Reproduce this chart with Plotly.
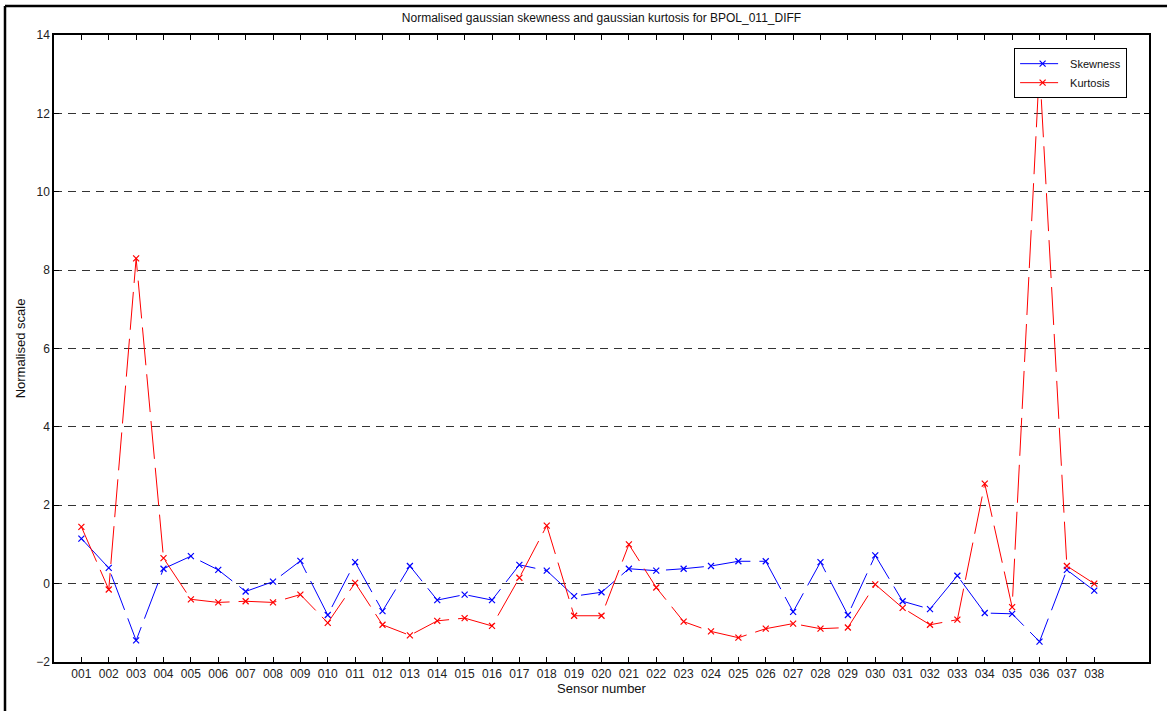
import plotly.graph_objects as go

# Sensor identifiers
sensors = list(range(1, 39))
sensor_labels = [f"{s:03d}" for s in sensors]

# Normalised gaussian skewness per sensor
skewness = [1.15, 0.40, -1.45, 0.38, 0.70, 0.35, -0.20, 0.05, 0.58, -0.80,
            0.55, -0.70, 0.45, -0.42, -0.28, -0.42, 0.48, 0.33, -0.32, -0.22,
            0.38, 0.33, 0.38, 0.45, 0.57, 0.57, -0.72, 0.55, -0.80, 0.72,
            -0.45, -0.65, 0.20, -0.75, -0.77, -1.48, 0.35, -0.18]

# Normalised gaussian kurtosis per sensor
kurtosis = [1.45, -0.15, 8.30, 0.65, -0.40, -0.48, -0.45, -0.48, -0.28, -1.00,
            0.02, -1.05, -1.32, -0.95, -0.88, -1.08, 0.15, 1.48, -0.82, -0.82,
            1.00, -0.10, -0.97, -1.22, -1.38, -1.15, -1.02, -1.15, -1.12, -0.02,
            -0.62, -1.05, -0.92, 2.55, -0.60, 13.20, 0.45, 0.00]

y_ticks = list(range(-2, 15, 2))

FONT = "Liberation Sans, Arial, sans-serif"
line_dash = "38px,9px"

fig = go.Figure()
fig.add_trace(go.Scatter(
    x=sensors, y=skewness, name="Skewness", mode="lines+markers",
    line=dict(color="#0000ff", width=1, dash=line_dash),
    marker=dict(symbol="x-thin-open", size=6, line=dict(color="#0000ff", width=1.2)),
))
fig.add_trace(go.Scatter(
    x=sensors, y=kurtosis, name="Kurtosis", mode="lines+markers",
    line=dict(color="#ff0000", width=1, dash=line_dash),
    marker=dict(symbol="x-thin-open", size=6, line=dict(color="#ff0000", width=1.2)),
))

axis_common = dict(
    showline=True, linecolor="black", linewidth=1.5, mirror="ticks",
    ticks="inside", ticklen=5, tickcolor="black", tickwidth=1,
    zeroline=False,
    tickfont=dict(family=FONT, size=12, color="#222"),
)

fig.update_layout(
    width=1167, height=711,
    paper_bgcolor="white", plot_bgcolor="white",
    margin=dict(l=54, r=18, t=35, b=49),
    font=dict(family=FONT, color="#111"),
    title=dict(text="Normalised gaussian skewness and gaussian kurtosis for BPOL_011_DIFF",
               x=(54 + 1149) / 2 / 1167, xanchor="center", y=1 - 18 / 711, yanchor="middle",
               font=dict(family=FONT, size=12, color="#111")),
    xaxis=dict(range=[0, 40], tickmode="array", tickvals=sensors, ticktext=sensor_labels,
               showgrid=False,
               title=dict(text="Sensor number", font=dict(family=FONT, size=13), standoff=4),
               **axis_common),
    yaxis=dict(range=[-2, 14], tickmode="array", tickvals=y_ticks,
               showgrid=True, gridcolor="#333", griddash="8px,6px", gridwidth=1,
               title=dict(text="Normalised scale", font=dict(family=FONT, size=13), standoff=8),
               **axis_common),
    legend=dict(x=0.980, y=0.979, xanchor="right", yanchor="top",
                bgcolor="white", bordercolor="black", borderwidth=1,
                font=dict(family=FONT, size=11, color="#111"),
                itemwidth=45, tracegroupgap=0),
    showlegend=True,
)

# Figure frame along the left and top edges
fig.add_shape(type="line", xref="paper", yref="paper",
              x0=(5 - 54) / 1095, x1=(5 - 54) / 1095, y0=-1, y1=1 + 29 / 627,
              line=dict(color="black", width=2.5))
fig.add_shape(type="line", xref="paper", yref="paper",
              x0=(5 - 54) / 1095, x1=1.2, y0=1 + 29 / 627, y1=1 + 29 / 627,
              line=dict(color="black", width=2.5))

fig.write_html("out.html")
